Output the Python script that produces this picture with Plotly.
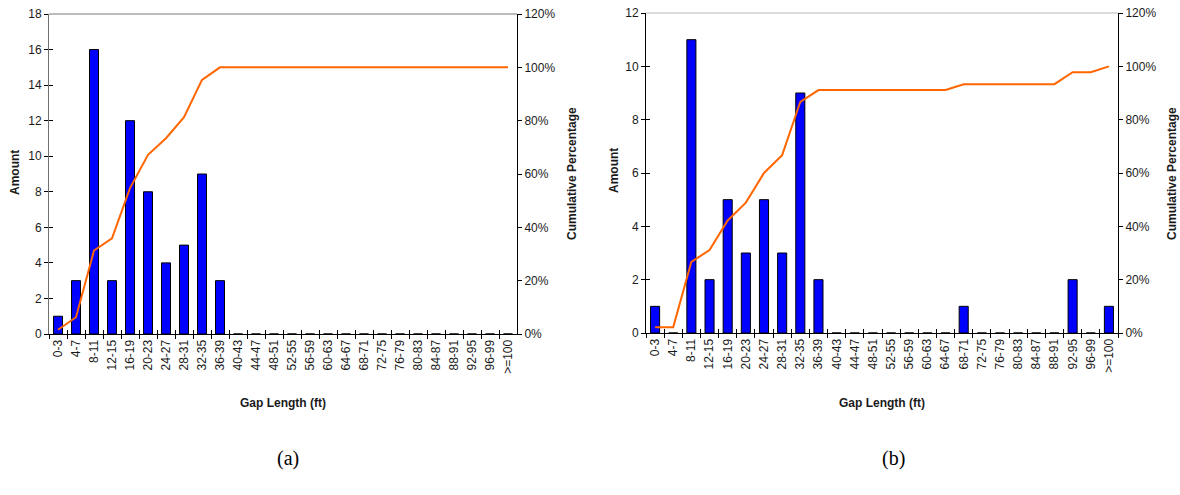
import plotly.graph_objects as go

categories = ["0-3", "4-7", "8-11", "12-15", "16-19", "20-23", "24-27", "28-31",
              "32-35", "36-39", "40-43", "44-47", "48-51", "52-55", "56-59", "60-63",
              "64-67", "68-71", "72-75", "76-79", "80-83", "84-87", "88-91", "92-95",
              "96-99", ">=100"]

amount_a = [1, 3, 16, 3, 12, 8, 4, 5, 9, 3, 0, 0, 0, 0, 0, 0,
            0, 0, 0, 0, 0, 0, 0, 0, 0, 0]
cum_a = [1.6, 6.3, 31.3, 35.9, 54.7, 67.2, 73.4, 81.3, 95.3, 100, 100, 100, 100,
         100, 100, 100, 100, 100, 100, 100, 100, 100, 100, 100, 100, 100]

amount_b = [1, 0, 11, 2, 5, 3, 5, 3, 9, 2, 0, 0, 0, 0, 0, 0,
            0, 1, 0, 0, 0, 0, 0, 2, 0, 1]
cum_b = [2.2, 2.2, 26.7, 31.1, 42.2, 48.9, 60.0, 66.7, 86.7, 91.1, 91.1, 91.1, 91.1,
         91.1, 91.1, 91.1, 91.1, 93.3, 93.3, 93.3, 93.3, 93.3, 93.3, 97.8, 97.8, 100]

left_ticks_a = [0, 2, 4, 6, 8, 10, 12, 14, 16, 18]
left_ticks_b = [0, 2, 4, 6, 8, 10, 12]
pct_ticks = [0, 20, 40, 60, 80, 100, 120]
pct_labels = ["0%", "20%", "40%", "60%", "80%", "100%", "120%"]

FONT = "Liberation Sans, Arial, sans-serif"
BAR = "#0000FF"
LINE = "#FF6600"

W, H = 1180, 495
def px_x(v):
    return v / W
def px_y(v):
    return 1 - v / H

dom_xa = [px_x(49), px_x(517)]
dom_xb = [px_x(646), px_x(1118)]
dom_ya = [px_y(334), px_y(14)]
dom_yb = [px_y(333), px_y(13)]

fig = go.Figure()

# chart (a)
fig.add_trace(go.Bar(x=categories, y=amount_a, xaxis="x", yaxis="y",
                     marker=dict(color=BAR, line=dict(color="black", width=1)),
                     hoverinfo="skip"))
fig.add_trace(go.Scatter(x=categories, y=cum_a, xaxis="x", yaxis="y2", mode="lines",
                         line=dict(color=LINE, width=2), hoverinfo="skip"))
# chart (b)
fig.add_trace(go.Bar(x=categories, y=amount_b, xaxis="x2", yaxis="y3",
                     marker=dict(color=BAR, line=dict(color="black", width=1)),
                     hoverinfo="skip"))
fig.add_trace(go.Scatter(x=categories, y=cum_b, xaxis="x2", yaxis="y4", mode="lines",
                         line=dict(color=LINE, width=2), hoverinfo="skip"))
# invisible traces to carry the inner half of the cross ticks
fig.add_trace(go.Scatter(x=categories, y=amount_a, xaxis="x3", yaxis="y5", mode="markers",
                         marker=dict(opacity=0), hoverinfo="skip"))
fig.add_trace(go.Scatter(x=categories, y=amount_b, xaxis="x4", yaxis="y7", mode="markers",
                         marker=dict(opacity=0), hoverinfo="skip"))

tickfont = dict(family=FONT, size=12, color="#1a1a1a")

def xaxis(domain, anchor, main=True, overlay=None):
    d = dict(domain=domain, anchor=anchor, type="category",
             categoryorder="array", categoryarray=categories,
             range=[-0.5, 25.5], tickson="boundaries", ticklen=4,
             tickcolor="black", tickwidth=1, showgrid=False, zeroline=False,
             fixedrange=True, automargin=False, ticklabeloverflow="allow")
    if main:
        d.update(ticks="outside", showline=True, linecolor="black", linewidth=1,
                 tickangle=-90, tickfont=tickfont, showticklabels=True)
    else:
        d.update(ticks="inside", showline=False, showticklabels=False, overlaying=overlay)
    return d

def yaxis(domain, anchor, rng, tickvals, ticktext=None, side="left", main=True,
          overlay=None, linecolor="black"):
    d = dict(domain=domain, anchor=anchor, range=rng, tickvals=tickvals,
             ticklen=4, tickcolor="black", tickwidth=1, showgrid=False,
             zeroline=False, side=side, fixedrange=True, automargin=False,
             ticklabeloverflow="allow")
    if ticktext is not None:
        d["ticktext"] = ticktext
    if main:
        d.update(ticks="outside", showline=True, linecolor=linecolor, linewidth=1,
                 tickfont=tickfont, showticklabels=True)
    else:
        d.update(ticks="inside", showline=False, showticklabels=False)
    if overlay:
        d["overlaying"] = overlay
    return d

fig.update_layout(
    width=W, height=H,
    margin=dict(l=0, r=0, t=0, b=0, pad=0, autoexpand=False),
    paper_bgcolor="white", plot_bgcolor="rgba(0,0,0,0)",
    showlegend=False, bargap=0.5,
    font=dict(family=FONT, size=12, color="#1a1a1a"),
    xaxis=xaxis(dom_xa, "y"),
    xaxis2=xaxis(dom_xb, "y3"),
    xaxis3=xaxis(dom_xa, "y5", main=False, overlay="x"),
    xaxis4=xaxis(dom_xb, "y7", main=False, overlay="x2"),
    yaxis=yaxis(dom_ya, "x", [0, 18], left_ticks_a, linecolor="#707070"),
    yaxis2=yaxis(dom_ya, "x", [0, 120], pct_ticks, pct_labels, side="right", overlay="y"),
    yaxis3=yaxis(dom_yb, "x2", [0, 12], left_ticks_b),
    yaxis4=yaxis(dom_yb, "x2", [0, 120], pct_ticks, pct_labels, side="right", overlay="y3"),
    yaxis5=yaxis(dom_ya, "x3", [0, 18], left_ticks_a, main=False, overlay="y"),
    yaxis6=yaxis(dom_ya, "x3", [0, 120], pct_ticks, side="right", main=False, overlay="y"),
    yaxis7=yaxis(dom_yb, "x4", [0, 12], left_ticks_b, main=False, overlay="y3"),
    yaxis8=yaxis(dom_yb, "x4", [0, 120], pct_ticks, side="right", main=False, overlay="y3"),
)

# top borders of the plot areas
fig.add_shape(type="line", xref="x domain", yref="y domain", x0=0, x1=1, y0=1, y1=1,
              line=dict(color="#7a7a7a", width=1))
fig.add_shape(type="line", xref="x2 domain", yref="y3 domain", x0=0, x1=1, y0=1, y1=1,
              line=dict(color="#b8b8b8", width=1))

title_font = dict(family=FONT, size=12, color="#1a1a1a")
def ann(text, x, y, angle=0, font=title_font):
    fig.add_annotation(text=text, x=px_x(x), y=px_y(y), xref="paper", yref="paper",
                       showarrow=False, textangle=angle, font=font,
                       xanchor="center", yanchor="middle")

ann("<b>Amount</b>", 15, 173, -90)
ann("<b>Cumulative Percentage</b>", 572, 174, -90)
ann("<b>Gap Length (ft)</b>", 283, 403)
ann("<b>Amount</b>", 614, 171, -90)
ann("<b>Cumulative Percentage</b>", 1172, 174, -90)
ann("<b>Gap Length (ft)</b>", 882, 403)

cap_font = dict(family="Liberation Serif, Times New Roman, serif", size=20, color="black")
ann("(a)", 288, 458, font=cap_font)
ann("(b)", 893, 458, font=cap_font)

fig.write_html(
    "out.html",
    config={"displayModeBar": False, "staticPlot": True},
    post_script="document.body.style.margin='0';document.body.style.overflow='hidden';",
)
